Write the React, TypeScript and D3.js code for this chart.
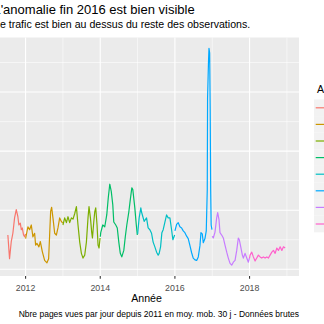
import React from 'react';
import * as d3 from 'd3';

// ---- data (decimal year, pages per day, 30-day moving average) ----
const years = ['2011', '2012', '2013', '2014', '2015', '2016', '2017', '2018'];
const colors = ['#F8766D', '#CD9600', '#7CAE00', '#00BE67', '#00BFC4', '#00A9FF', '#C77CFF', '#FF61CC'];

const t2011 = [2011.525, 2011.57, 2011.616, 2011.659, 2011.705, 2011.75, 2011.793, 2011.82, 2011.858, 2011.885, 2011.911, 2011.946, 2011.973, 2011.997];
const v2011 = [158, 118, 147, 161, 187, 201, 189, 175, 178, 167, 170, 158, 155, 160];

const t2012 = [2012.0, 2012.062, 2012.107, 2012.153, 2012.196, 2012.242, 2012.268, 2012.303, 2012.357, 2012.395, 2012.448, 2012.51, 2012.572, 2012.617, 2012.644, 2012.671, 2012.698, 2012.733, 2012.779, 2012.824, 2012.867, 2012.913, 2012.958, 2012.993];
const v2012 = [152, 172, 167, 175, 155, 161, 141, 144, 138, 147, 130, 115, 111, 118, 158, 198, 205, 187, 161, 158, 170, 187, 181, 178];

const t2013 = [2013.001, 2013.047, 2013.093, 2013.136, 2013.181, 2013.227, 2013.27, 2013.315, 2013.361, 2013.404, 2013.45, 2013.495, 2013.538, 2013.584, 2013.629, 2013.672, 2013.699, 2013.737, 2013.772, 2013.791, 2013.826, 2013.852, 2013.879, 2013.914, 2013.941, 2013.968, 2013.995];
const v2013 = [175, 187, 179, 189, 179, 187, 185, 194, 206, 175, 146, 127, 119, 124, 146, 187, 206, 187, 162, 153, 180, 197, 204, 175, 141, 136, 153];

const t2014 = [2014.002, 2014.013, 2014.067, 2014.121, 2014.174, 2014.215, 2014.255, 2014.295, 2014.336, 2014.362, 2014.416, 2014.456, 2014.497, 2014.537, 2014.577, 2014.631, 2014.671, 2014.711, 2014.765, 2014.805, 2014.846, 2014.872, 2014.926, 2014.966, 2014.993];
const v2014 = [155, 162, 175, 172, 192, 221, 244, 232, 209, 180, 175, 170, 146, 127, 121, 132, 155, 175, 197, 218, 238, 235, 204, 175, 158];

const t2015 = [2015.002, 2015.042, 2015.087, 2015.106, 2015.176, 2015.24, 2015.283, 2015.329, 2015.374, 2015.417, 2015.463, 2015.509, 2015.552, 2015.579, 2015.616, 2015.651, 2015.686, 2015.732, 2015.777, 2015.82, 2015.866, 2015.911, 2015.946, 2015.993];
const v2015 = [160, 187, 204, 197, 181, 187, 170, 167, 161, 146, 138, 129, 124, 127, 138, 162, 167, 180, 192, 187, 187, 167, 150, 158];

const t2016 = [2016.0, 2016.046, 2016.089, 2016.134, 2016.18, 2016.223, 2016.268, 2016.314, 2016.357, 2016.403, 2016.448, 2016.491, 2016.537, 2016.583, 2016.626, 2016.671, 2016.698, 2016.733, 2016.76, 2016.805, 2016.84, 2016.867, 2016.875, 2016.899, 2016.913, 2016.931, 2016.945, 2016.958, 2016.971, 2016.993];
const v2016 = [165, 176, 179, 172, 170, 165, 162, 156, 152, 140, 128, 119, 116, 115, 121, 140, 162, 160, 145, 152, 165, 235, 389, 449, 474, 466, 372, 235, 175, 167];

const t2017 = [2017.0, 2017.028, 2017.074, 2017.119, 2017.146, 2017.181, 2017.208, 2017.253, 2017.297, 2017.342, 2017.388, 2017.431, 2017.477, 2017.522, 2017.565, 2017.611, 2017.656, 2017.699, 2017.726, 2017.764, 2017.807, 2017.834, 2017.879, 2017.925, 2017.968, 2017.997];
const v2017 = [156, 153, 163, 187, 196, 184, 162, 158, 153, 141, 129, 119, 110, 107, 112, 115, 132, 153, 150, 138, 124, 119, 127, 119, 112, 119];

const t2018 = [2018.0, 2018.013, 2018.059, 2018.102, 2018.148, 2018.193, 2018.236, 2018.282, 2018.327, 2018.37, 2018.416, 2018.462, 2018.505, 2018.55, 2018.596, 2018.639, 2018.685, 2018.73, 2018.773, 2018.819, 2018.865, 2018.908, 2018.953];
const v2018 = [119, 124, 129, 121, 114, 119, 124, 121, 119, 121, 119, 121, 119, 124, 129, 132, 127, 136, 132, 138, 132, 138, 136];

const xMajor = [2012, 2014, 2016, 2018];
const xMinor = [2013, 2015, 2017, 2019];
const yMajor = [100, 200, 300, 400];
const yMinor = [150, 250, 350, 450];

const titleText = "L'anomalie fin 2016 est bien visible";
const subtitleText = 'Le trafic est bien au dessus du reste des observations.';
const xTitle = 'Année';
const legendTitle = 'Année';
const captionText = 'Nbre pages vues par jour depuis 2011 en moy. mob. 30 j - Données brutes';

const allT = [t2011, t2012, t2013, t2014, t2015, t2016, t2017, t2018];
const allV = [v2011, v2012, v2013, v2014, v2015, v2016, v2017, v2018];

const W = 324;
const H = 324;
const panel = { left: -6, right: 299, top: 37.5, bottom: 276 };
const FONT = '"Liberation Sans", Arial, Helvetica, sans-serif';

function expand(ext: [number, number], f = 0.05): [number, number] {
  const r = ext[1] - ext[0];
  return [ext[0] - r * f, ext[1] + r * f];
}

export default function App() {
  const series = years.map((y, i) =>
    allT[i].map((t, j) => ({ t, v: allV[i][j] }))
  );
  const flat = series.flat();
  const xDom = expand(d3.extent(flat, (d) => d.t) as [number, number]);
  const yDom = expand(d3.extent(flat, (d) => d.v) as [number, number]);

  const x = d3.scaleLinear().domain(xDom).range([panel.left, panel.right]);
  const y = d3.scaleLinear().domain(yDom).range([panel.bottom, panel.top]);

  const line = d3
    .line<{ t: number; v: number }>()
    .x((d) => x(d.t))
    .y((d) => y(d.v));

  const keyX = 314;
  const keyY0 = 99.5;
  const keyW = 17.28;
  const keyH = 16.6;

  return (
    <svg
      width={W}
      height={H}
      style={{ position: 'absolute', left: 0, top: 0, overflow: 'hidden', background: '#fff' }}
      fontFamily={FONT}
    >
      <rect x={0} y={0} width={W} height={H} fill="#ffffff" />
      {/* panel */}
      <rect
        x={panel.left}
        y={panel.top}
        width={panel.right - panel.left}
        height={panel.bottom - panel.top}
        fill="#EBEBEB"
      />
      {yMinor.filter((v) => v > yDom[0] && v < yDom[1]).map((v) => (
        <line key={'ymi' + v} x1={panel.left} x2={panel.right} y1={y(v)} y2={y(v)} stroke="#fff" strokeWidth={0.55} />
      ))}
      {xMinor.filter((v) => v > xDom[0] && v < xDom[1]).map((v) => (
        <line key={'xmi' + v} y1={panel.top} y2={panel.bottom} x1={x(v)} x2={x(v)} stroke="#fff" strokeWidth={0.55} />
      ))}
      {yMajor.map((v) => (
        <line key={'yma' + v} x1={panel.left} x2={panel.right} y1={y(v)} y2={y(v)} stroke="#fff" strokeWidth={1.1} />
      ))}
      {xMajor.map((v) => (
        <line key={'xma' + v} y1={panel.top} y2={panel.bottom} x1={x(v)} x2={x(v)} stroke="#fff" strokeWidth={1.1} />
      ))}

      {/* series */}
      {series.map((s, i) => (
        <path key={years[i]} d={line(s) || ''} fill="none" stroke={colors[i]} strokeWidth={1.2} strokeLinejoin="round" />
      ))}

      {/* x axis */}
      {xMajor.map((v) => (
        <g key={'xt' + v}>
          <line x1={x(v)} x2={x(v)} y1={panel.bottom} y2={panel.bottom + 2.7} stroke="#333333" strokeWidth={1.07} />
          <text x={x(v)} y={290.5} textAnchor="middle" fontSize={8.8} fill="#4D4D4D">
            {v}
          </text>
        </g>
      ))}
      <text x={(panel.left + panel.right) / 2} y={301.5} textAnchor="middle" fontSize={10.6} fill="#000">
        {xTitle}
      </text>

      {/* titles */}
      <text x={panel.left - 0.6} y={14} fontSize={13} fill="#000">
        {titleText}
      </text>
      <text x={panel.left} y={27.5} fontSize={10.6} fill="#000">
        {subtitleText}
      </text>
      <text x={panel.right} y={316.5} textAnchor="end" fontSize={8.5} fill="#000">
        {captionText}
      </text>

      {/* legend */}
      <text x={keyX + 3} y={92.5} fontSize={10.6} fill="#000">
        {legendTitle}
      </text>
      {years.map((yr, i) => {
        const ky = keyY0 + i * keyH;
        return (
          <g key={'lg' + yr}>
            <rect x={keyX} y={ky} width={keyW} height={keyH} fill="#F2F2F2" />
            <line x1={keyX + 1.7} x2={keyX + keyW - 1.7} y1={ky + keyH / 2} y2={ky + keyH / 2} stroke={colors[i]} strokeWidth={1.2} />
            <text x={keyX + keyW + 5.5} y={ky + keyH / 2 + 3} fontSize={8.8} fill="#000">
              {yr}
            </text>
          </g>
        );
      })}
    </svg>
  );
}
